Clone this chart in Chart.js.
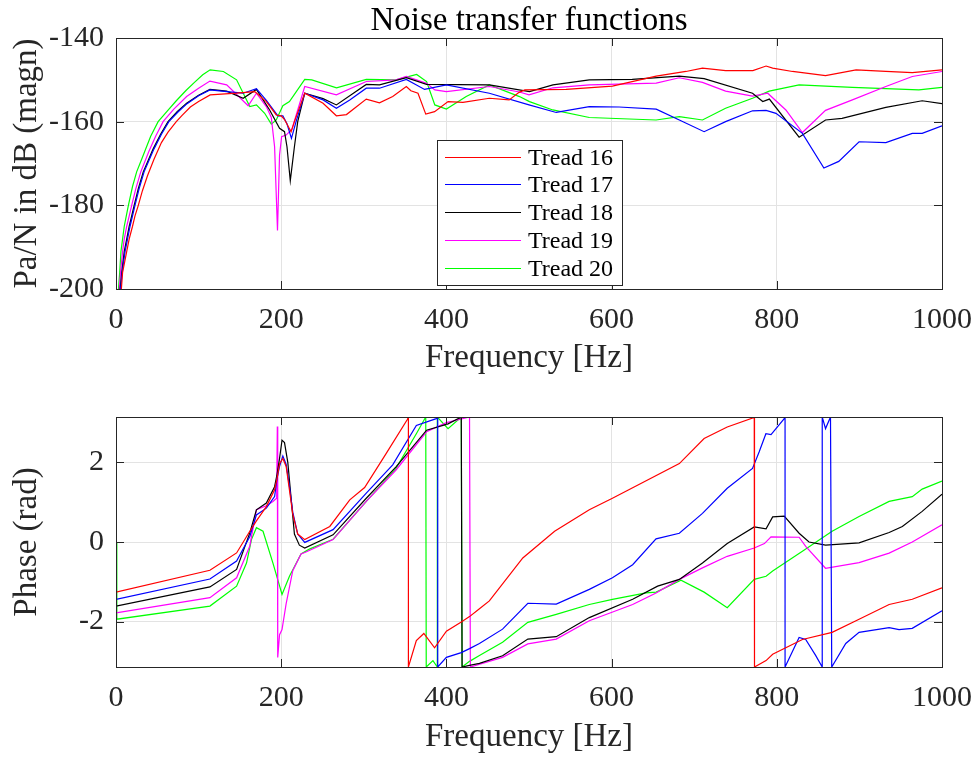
<!DOCTYPE html>
<html>
<head>
<meta charset="utf-8">
<title>Noise transfer functions</title>
<script src="https://cdn.jsdelivr.net/npm/chart.js@4.4.1/dist/chart.umd.min.js"></script>
<style>
  html, body { margin: 0; padding: 0; background: #fff; }
  #wrap { position: relative; width: 978px; height: 757px; }
  canvas { position: absolute; left: 0; }
  #magChart { top: 0; }
  #phaseChart { top: 380px; }
</style>
</head>
<body>
<div id="wrap">
  <canvas id="magChart" width="978" height="380"></canvas>
  <canvas id="phaseChart" width="978" height="377"></canvas>
</div>
<script>
// series names and colours
const treads = ['Tread 16', 'Tread 17', 'Tread 18', 'Tread 19', 'Tread 20'];
const treadColors = ['#ff0000', '#0000ff', '#000000', '#ff00ff', '#00ff00'];

// axis ticks
const freqTicks = [0, 200, 400, 600, 800, 1000];
const magTicks = [-200, -180, -160, -140];
const phaseTicks = [-2, 0, 2];

// magnitude, [frequency Hz, dB]
const mag16 = [[5,-205],[6.5,-200],[8,-196],[13,-191],[16,-188],[20,-185],[23,-182.5],[27,-180],[32,-176.5],[38,-173],[46,-169],[55,-165],[63,-162.5],[73,-160],[80,-158.5],[90,-156.5],[100,-155.2],[114,-153.6],[146,-153.2],[168,-152.8],[182,-155.2],[194,-158.4],[200,-158.6],[204,-159.5],[212,-162.4],[216,-160],[228.5,-153.2],[250.7,-155.6],[266.8,-158.6],[279,-158.3],[303,-154.6],[319,-155.5],[335,-154],[351.5,-151.6],[357,-152.6],[365.6,-153.2],[375,-158.2],[385.7,-157.6],[402,-155.2],[420,-155.4],[452,-154.4],[476,-154.8],[488,-153],[495,-152.4],[545,-152.3],[601,-151.5],[654,-149.1],[690,-148],[710,-147.2],[738,-147.8],[771,-147.8],[787,-146.7],[795,-147.2],[819,-148],[859,-149],[896,-147.6],[932,-148],[964,-148.3],[1000,-147.6]];
const mag17 = [[4.5,-205],[5.5,-200],[7.5,-196],[11,-191],[14,-188],[17,-185],[20,-182.5],[23,-180],[28,-176],[34,-172],[46,-166.5],[55,-163],[64,-160],[75,-157.7],[86,-155.7],[100,-153.8],[113.7,-152.4],[134,-152.8],[154,-153.2],[170,-152.1],[182,-154.9],[196,-158.6],[202,-158.6],[207,-160.5],[212.4,-164],[218,-160],[228.5,-153.2],[250.7,-154.8],[266.8,-156.8],[283,-154.8],[303,-152],[319,-152],[351.5,-149.9],[373.6,-152.3],[400,-151.2],[452,-153.2],[500,-156],[533,-157.8],[573,-156.4],[609,-156.5],[654,-157],[682,-159.6],[712,-162.4],[738,-160],[770.6,-157.4],[787,-157.3],[799,-158],[831,-162.8],[857,-171.1],[875,-169.5],[899.6,-164.8],[932,-165],[964,-162.8],[976,-162.8],[1000,-161]];
const mag18 = [[4,-205],[5,-200],[7,-196],[10,-191],[13,-188],[16,-185],[19,-182.5],[22,-180],[27,-176],[33,-172],[45,-166.5],[54,-163],[63,-160],[74,-157.6],[85.5,-155.6],[100,-153.7],[113.7,-152.3],[134,-152.7],[154,-154.4],[170,-152.3],[186,-157.2],[198,-161.6],[204,-162.4],[207,-166],[211,-174.1],[216,-166],[220,-160],[228.5,-153.2],[250.7,-154.5],[266.8,-156],[303,-151.1],[319,-151.2],[351.5,-149.5],[376,-151.1],[452,-151.2],[500.6,-152.8],[529,-151.2],[573,-150],[625,-149.9],[682,-149.1],[712,-149.7],[770.6,-153.2],[783,-155.2],[791,-154.6],[827,-163.7],[859,-159.6],[879,-159.2],[932,-156.6],[976,-155],[1000,-155.7]];
const mag19 = [[3,-205],[4,-200],[5.5,-196],[8,-191],[10,-188],[13,-185],[16,-182.5],[19,-180],[24,-176],[30,-172],[40,-167],[48,-163.5],[57,-160],[70,-157],[85.5,-154],[100,-152],[113.7,-150.3],[134,-151.2],[160,-156.2],[170,-153.2],[182,-156.4],[188,-159],[192,-166],[195.5,-186],[198,-168],[200.5,-163.6],[206,-163.2],[213,-161.8],[228.5,-151.6],[266.8,-153.6],[303,-150.4],[339,-150],[351.5,-149.2],[376,-150.8],[386,-152.4],[400,-152.8],[452,-151.6],[488.5,-152.9],[500,-153.6],[529,-151.9],[573,-151.2],[654,-150.8],[682,-149.5],[710,-150.6],[738,-152.7],[770.6,-153.9],[789,-153.2],[811,-157.2],[831,-162.6],[859,-157.3],[891.5,-154.8],[932,-151.6],[964,-149.2],[1000,-148]];
const mag20 = [[2,-205],[3,-200],[4.5,-196],[6,-191],[8,-188],[10,-185],[12,-183],[15,-180],[20,-175.5],[25,-172],[30,-169.5],[35,-167],[42,-163.5],[51,-160],[62,-157.5],[73,-155],[85,-152.5],[95,-150.6],[105,-148.8],[114,-147.6],[130,-148],[146,-150],[162,-156.4],[170,-156],[180,-158],[188,-160.6],[194,-159.6],[202,-156.2],[210,-155.2],[228.5,-149.9],[237,-150],[267,-151.9],[303,-149.9],[339,-150],[364,-148.7],[376,-150.4],[386,-156],[400,-157],[424,-154],[452,-151.2],[488.5,-154],[500.6,-155.2],[528.8,-157.2],[573,-159],[653.8,-159.6],[682,-158.8],[710,-159.6],[738,-156.8],[770.6,-154.4],[790.8,-152.7],[827,-151.2],[891.5,-151.8],[972,-152.4],[1000,-151.8]];

// phase, [frequency Hz, rad]; wrapped to +-pi as plotted
const PI = Math.PI;
const phase16 = [[0,-1.26],[113.7,-0.71],[146,-0.275],[162,0.27],[170,0.53],[182,0.89],[192,1.31],[195,1.6],[198,1.97],[202,2.1],[206,1.9],[210,1.3],[214,0.7],[220,0.2],[228.5,0.06],[258.8,0.39],[283,1.06],[301,1.37],[327,2.22],[352.7,3.08],[354,PI],[354,-PI],[363.6,-2.48],[372.7,-2.3],[385.7,-2.66],[400,-2.24],[418,-2.01],[428,-1.875],[440,-1.68],[452,-1.48],[492.5,-0.4],[531,0.27],[573,0.81],[601,1.1],[682,1.97],[712,2.6],[740,2.89],[772.7,3.13],[773,PI],[773,-PI],[787,-2.98],[795,-2.82],[831,-2.45],[867,-2.27],[899.6,-1.94],[936,-1.57],[964,-1.44],[1000,-1.15]];
const phase17 = [[0,-1.44],[113.7,-0.93],[146,-0.48],[162,0.14],[170,0.68],[182,0.85],[192,1.14],[195,1.6],[198,1.9],[202,2.16],[206,1.95],[210,1.4],[214,0.75],[220,0.2],[228.5,-0.01],[262.8,0.31],[303,1.23],[335,1.94],[363.6,2.93],[387.7,3.1],[389.5,PI],[389.5,-PI],[400,-2.9],[418,-2.78],[428,-2.68],[440,-2.55],[468,-2.19],[498.6,-1.54],[533,-1.56],[573,-1.19],[601,-0.9],[625.5,-0.57],[653.8,0.08],[682,0.22],[710,0.72],[740,1.35],[770.6,1.85],[778.7,2.27],[786.8,2.72],[793,2.7],[809,3.1],[810,PI],[810,-PI],[827,-2.4],[835,-2.45],[847,-2.85],[855,-PI],[855,PI],[859,2.85],[865,PI],[866.5,-PI],[883.5,-2.55],[899.6,-2.27],[936,-2.15],[948,-2.2],[964,-2.17],[1000,-1.73]];
const phase18 = [[0,-1.61],[113.7,-1.13],[146,-0.69],[162,0.23],[170,0.81],[182,0.98],[192,1.39],[195,1.7],[198,2.1],[201,2.56],[204,2.5],[208,2.0],[212,1.1],[216,0.2],[222,-0.08],[228.5,-0.15],[262.8,0.18],[303,1.1],[339,1.89],[376,2.81],[402,2.97],[418,PI],[419,-PI],[428,-3.1],[440,-3.05],[468,-2.86],[498.6,-2.44],[533,-2.38],[573,-1.9],[625.5,-1.44],[655.7,-1.11],[682,-0.94],[710,-0.53],[740,-0.04],[772.7,0.38],[787,0.33],[795,0.63],[809,0.65],[827,0.22],[839,0.0],[859,-0.08],[899.6,-0.02],[936,0.24],[952,0.39],[976,0.77],[1000,1.2]];
const phase19 = [[0,-1.78],[113.7,-1.4],[146,-0.9],[162,-0.1],[170,0.81],[182,0.91],[190,1.02],[194.5,1.1],[195.3,2.9],[195.8,-2.9],[198,-2.33],[201,-2.2],[206,-1.55],[214,-0.72],[224,-0.3],[230,-0.25],[262.8,0.06],[303,1.02],[339,1.81],[376,2.77],[400,3.0],[428,PI],[429,-PI],[468,-2.9],[498.6,-2.56],[533,-2.44],[573,-1.98],[625.5,-1.57],[653.8,-1.28],[682,-0.94],[710,-0.65],[740,-0.36],[772.7,-0.15],[785,-0.04],[793,0.13],[827,0.12],[835,-0.11],[859,-0.66],[899.6,-0.52],[936,-0.28],[964,0.0],[1000,0.43]];
const phase20 = [[0,-0.02],[1,-1.94],[113.7,-1.61],[146,-1.11],[158,-0.53],[164,0.06],[170,0.36],[178,0.27],[190,-0.53],[201,-1.32],[210,-0.86],[224,-0.3],[234,-0.18],[262.8,0.07],[303,1.02],[339,1.85],[363.6,2.72],[375,PI],[375.6,-PI],[383.7,-2.98],[389,-PI],[389,PI],[402,2.85],[418,PI],[419,-PI],[428,-3.0],[440,-2.85],[468,-2.52],[498.6,-2.02],[533,-1.82],[573,-1.57],[601,-1.44],[641.7,-1.28],[654,-1.26],[684,-0.96],[712,-1.26],[740,-1.65],[772.7,-0.94],[787,-0.86],[795,-0.73],[831,-0.23],[867,0.27],[899.6,0.64],[936,1.02],[964,1.14],[976,1.33],[1000,1.53]];

const magSeries = [mag16, mag17, mag18, mag19, mag20];
const phaseSeries = [phase16, phase17, phase18, phase19, phase20];

const serif = "'Liberation Serif', 'Times New Roman', serif";
const axisInk = '#262626';
const gridInk = '#e3e3e3';

function toDatasets(series) {
    return series.map((pts, i) => ({
        label: treads[i],
        data: pts.map(p => ({ x: p[0], y: p[1] })),
        borderColor: treadColors[i],
        backgroundColor: treadColors[i],
        borderWidth: 1.2,
        pointRadius: 0,
        tension: 0,
        fill: false
    }));
}

// box around the axes with inward tick marks on all four sides
const axesBox = {
    id: 'axesBox',
    afterDatasetsDraw(chart) {
        const { ctx, chartArea: a, scales: { x, y } } = chart;
        const len = 8;
        ctx.save();
        ctx.strokeStyle = axisInk;
        ctx.lineWidth = 1;
        ctx.beginPath();
        x.ticks.forEach(t => {
            const px = Math.round(x.getPixelForValue(t.value)) + 0.5;
            ctx.moveTo(px, a.bottom); ctx.lineTo(px, a.bottom - len);
            ctx.moveTo(px, a.top); ctx.lineTo(px, a.top + len);
        });
        y.ticks.forEach(t => {
            const py = Math.round(y.getPixelForValue(t.value)) + 0.5;
            ctx.moveTo(a.left, py); ctx.lineTo(a.left + len, py);
            ctx.moveTo(a.right, py); ctx.lineTo(a.right - len, py);
        });
        ctx.stroke();
        ctx.strokeRect(Math.round(a.left) + 0.5, Math.round(a.top) + 0.5,
            Math.round(a.width), Math.round(a.height));
        ctx.restore();
    }
};

const plotTitle = {
    id: 'plotTitle',
    afterDraw(chart, args, opts) {
        if (!opts.text) return;
        const { ctx, chartArea: a } = chart;
        ctx.save();
        ctx.fillStyle = '#000';
        ctx.font = '33px ' + serif;
        ctx.textAlign = 'center';
        ctx.textBaseline = 'alphabetic';
        ctx.fillText(opts.text, (a.left + a.right) / 2, opts.y);
        ctx.restore();
    }
};

// legend drawn inside the axes
const insetLegend = {
    id: 'insetLegend',
    afterDraw(chart, args, opts) {
        if (!opts.show) return;
        const { ctx } = chart;
        const { x, y, w, h, rowH } = opts;
        ctx.save();
        ctx.fillStyle = '#fff';
        ctx.fillRect(x, y, w, h);
        ctx.strokeStyle = axisInk;
        ctx.lineWidth = 1;
        ctx.strokeRect(x + 0.5, y + 0.5, w, h);
        ctx.font = '24px ' + serif;
        ctx.textBaseline = 'middle';
        chart.data.datasets.forEach((ds, i) => {
            const cy = Math.round(y + 16.7 + i * rowH) + 0.5;
            ctx.strokeStyle = ds.borderColor;
            ctx.lineWidth = 1.2;
            ctx.beginPath();
            ctx.moveTo(x + 8, cy);
            ctx.lineTo(x + 84, cy);
            ctx.stroke();
            ctx.fillStyle = '#000';
            ctx.fillText(ds.label, x + 91, cy + 1);
        });
        ctx.restore();
    }
};

function makeOptions(cfg) {
    return {
        responsive: false,
        animation: false,
        layout: { padding: { top: cfg.top, right: 36, left: 0, bottom: 0 } },
        plugins: {
            legend: { display: false },
            tooltip: { enabled: false },
            plotTitle: { text: cfg.title, y: 30 },
            insetLegend: cfg.legend || { show: false }
        },
        scales: {
            x: {
                type: 'linear',
                min: 0,
                max: 1000,
                afterFit: s => { s.height = cfg.xAxisH; s.paddingLeft = 0; s.paddingRight = 0; },
                afterBuildTicks: s => { s.ticks = freqTicks.map(v => ({ value: v })); },
                ticks: {
                    color: axisInk, font: { family: serif, size: 30 }, padding: 13,
                    maxRotation: 0, autoSkip: false, callback: v => String(v)
                },
                grid: { color: gridInk, drawTicks: false },
                border: { display: false },
                title: {
                    display: true, text: 'Frequency [Hz]', color: axisInk,
                    font: { family: serif, size: 33 }, padding: { top: 0, bottom: cfg.xTitlePad }
                }
            },
            y: {
                type: 'linear',
                min: cfg.yMin,
                max: cfg.yMax,
                afterFit: s => { s.width = 116; s.paddingTop = 0; s.paddingBottom = 0; },
                afterBuildTicks: s => { s.ticks = cfg.yTicks.map(v => ({ value: v })); },
                ticks: { color: axisInk, font: { family: serif, size: 30 }, padding: 12, callback: v => String(v) },
                grid: { color: gridInk, drawTicks: false },
                border: { display: false },
                title: {
                    display: true, text: cfg.yTitle, color: axisInk,
                    font: { family: serif, size: 33 }, padding: { top: 8, bottom: 0 }
                }
            }
        }
    };
}

document.addEventListener('DOMContentLoaded', function () {
    new Chart(document.getElementById('magChart'), {
        type: 'line',
        data: { datasets: toDatasets(magSeries) },
        options: makeOptions({
            top: 38, xAxisH: 91, xTitlePad: 2,
            yMin: -200, yMax: -140, yTicks: magTicks,
            yTitle: 'Pa/N in dB (magn)',
            title: 'Noise transfer functions',
            legend: { show: true, x: 437, y: 140, w: 185, h: 145, rowH: 27.75 }
        }),
        plugins: [axesBox, plotTitle, insetLegend]
    });

    new Chart(document.getElementById('phaseChart'), {
        type: 'line',
        data: { datasets: toDatasets(phaseSeries) },
        options: makeOptions({
            top: 37, xAxisH: 90, xTitlePad: 0,
            yMin: -PI, yMax: PI, yTicks: phaseTicks,
            yTitle: 'Phase (rad)',
            title: ''
        }),
        plugins: [axesBox, plotTitle, insetLegend]
    });
});
</script>
</body>
</html>
